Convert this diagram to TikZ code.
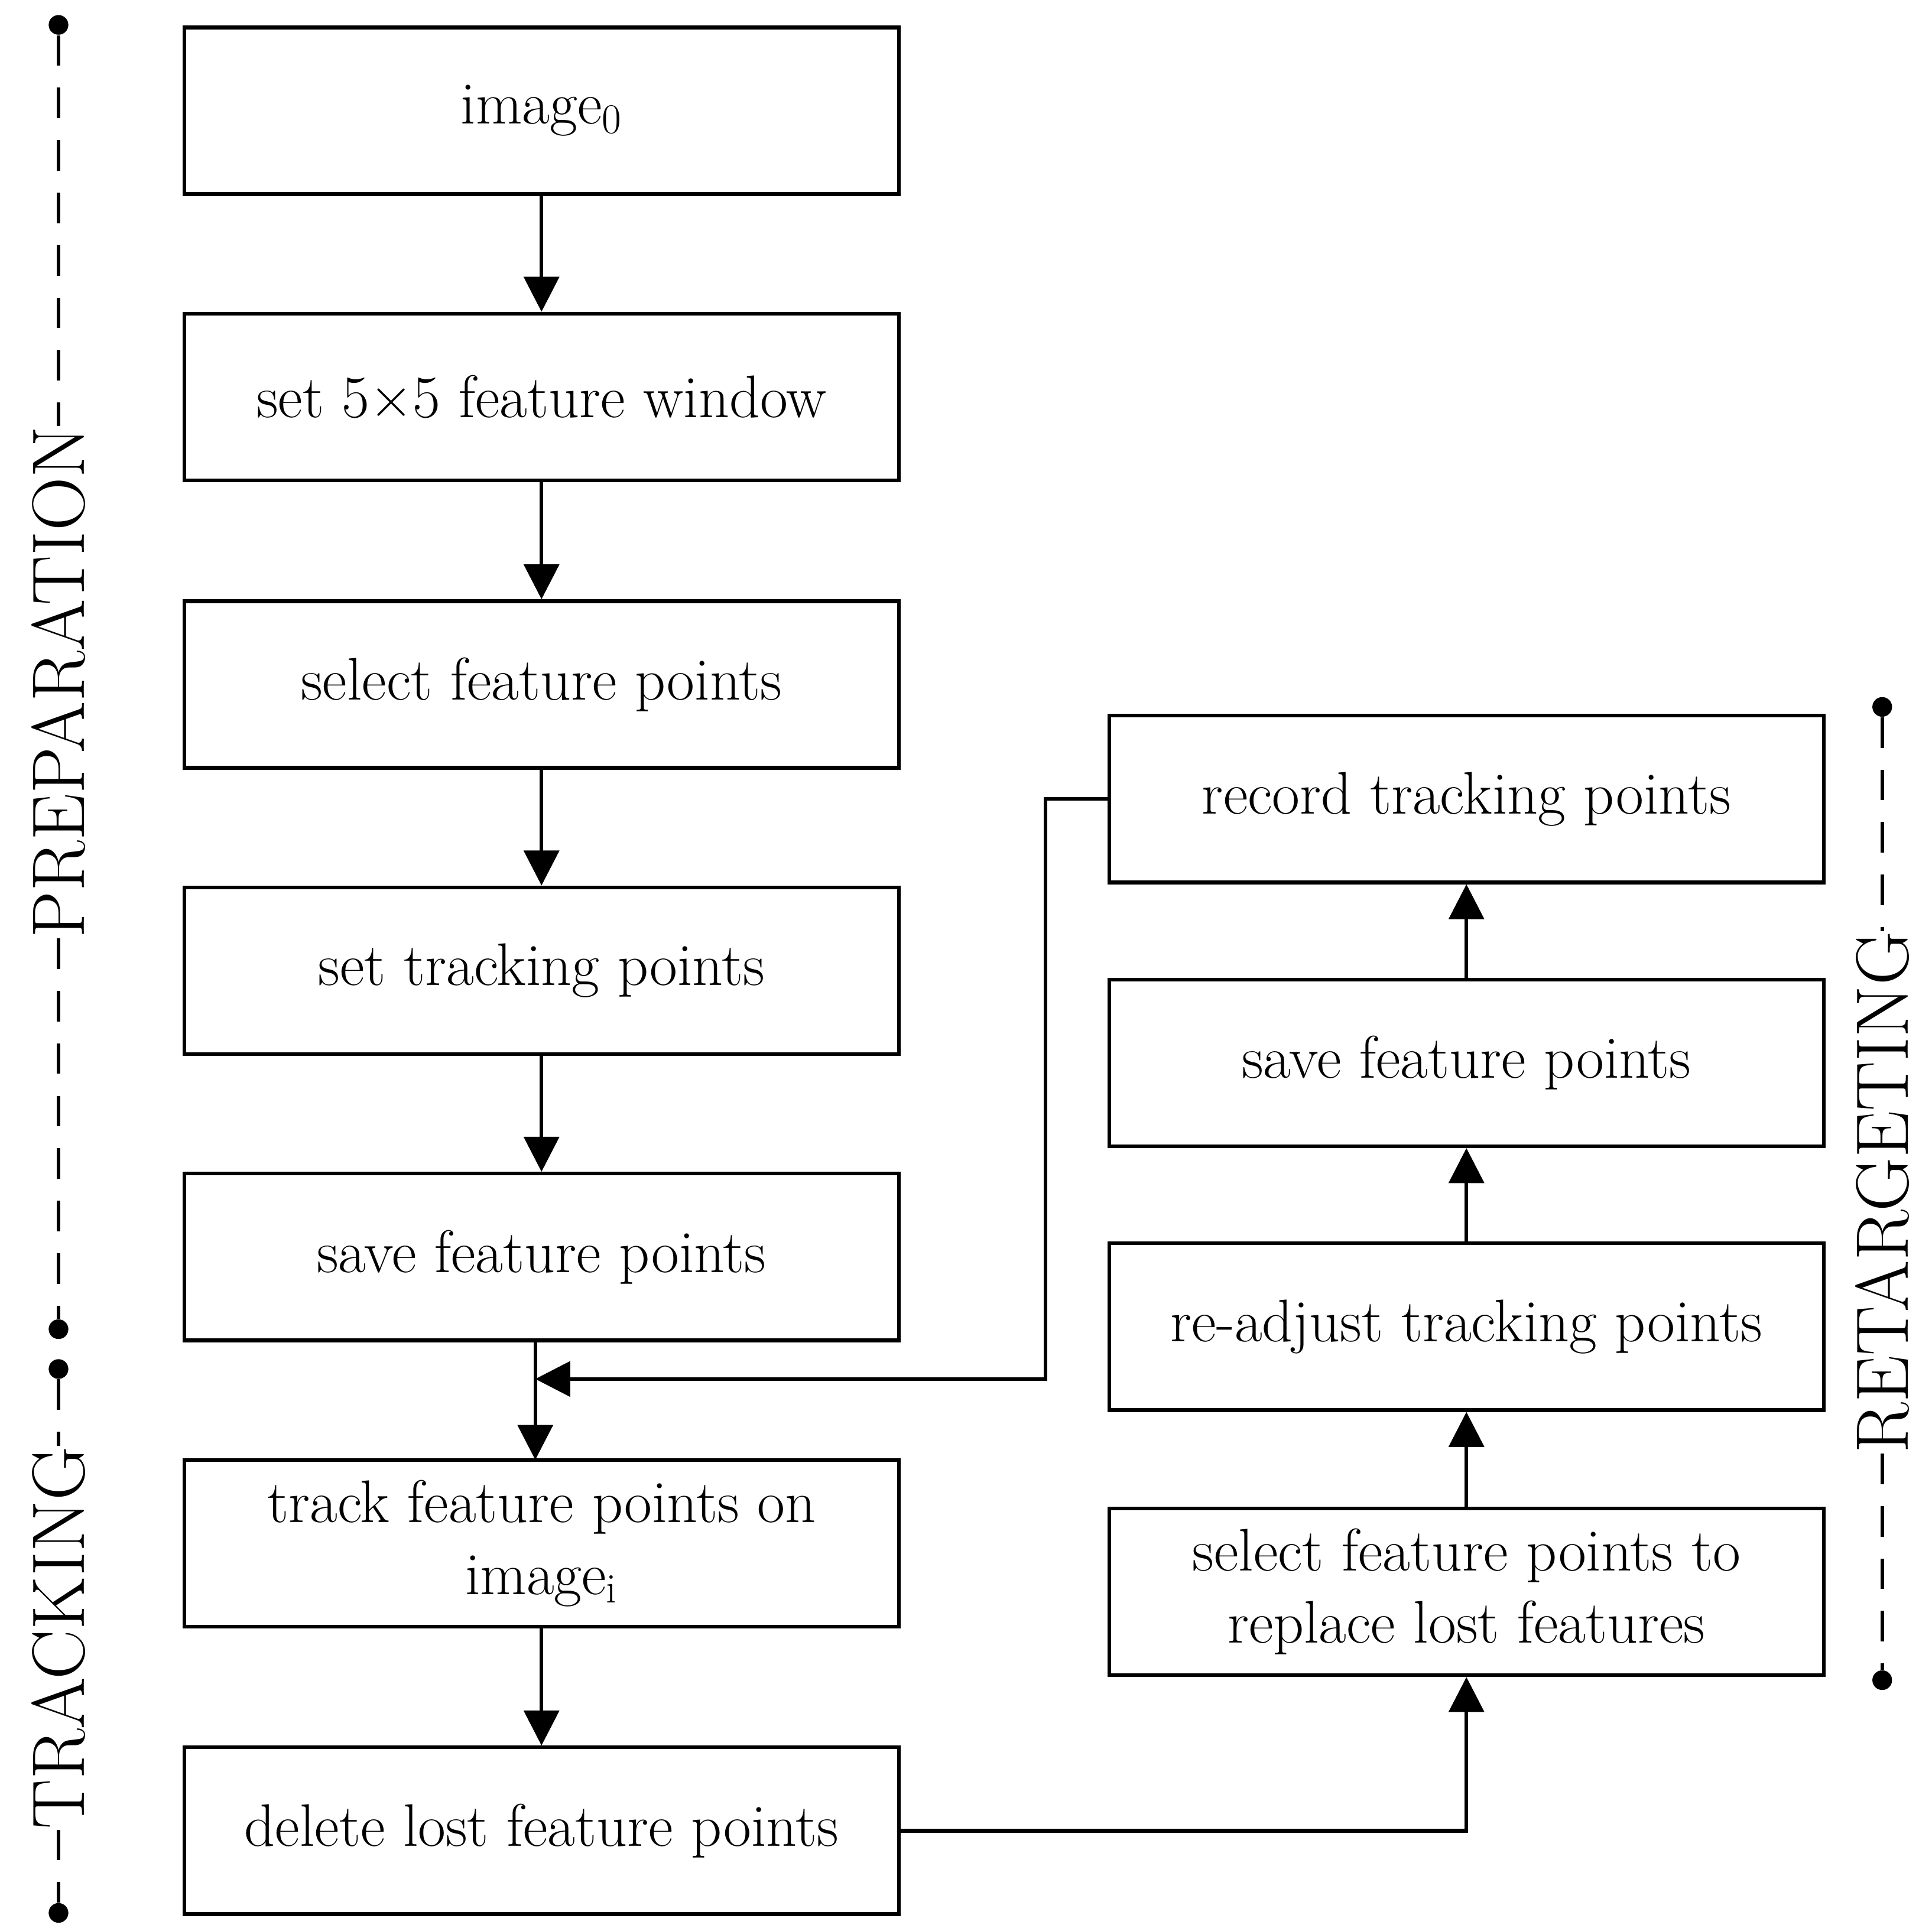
\documentclass[tikz,border=0pt]{standalone}
\usetikzlibrary{arrows.meta}
\begin{document}
\begin{tikzpicture}[x=0.02cm,y=-0.02cm,
 box/.style={draw,line width=1.7pt,minimum width=11.48cm,minimum height=2.68cm,align=center,font=\fontsize{27.5}{33}\selectfont,inner sep=0pt},
 ar/.style={line width=1.7pt,-{Triangle[length=16pt,width=16pt]}},
 dl/.style={line width=1.5pt,dash pattern=on 14pt off 10pt},
 dot/.style={circle,fill,inner sep=0pt,minimum size=9pt},
 lab/.style={rotate=90,font=\fontsize{34}{34}\selectfont,inner sep=0pt}]
\useasboundingbox (0,0) rectangle (1552,1549);
\node[box] (a) at (435,89) {image\textsubscript{0}};
\node[box] (b) at (435,319) {set 5×5 feature window};
\node[box] (c) at (435,550) {select feature points};
\node[box] (d) at (435,780) {set tracking points};
\node[box] (e) at (435,1010) {save feature points};
\node[box] (f) at (435,1240) {track feature points on\\image\textsubscript{i}};
\node[box] (g) at (435,1471) {delete lost feature points};
\node[box] (r1) at (1178,642) {record tracking points};
\node[box] (r2) at (1178,854) {save feature points};
\node[box] (r3) at (1178,1066) {re-adjust tracking points};
\node[box] (r4) at (1178,1279) {select feature points to\\replace lost features};
\draw[ar] (a) -- (b); \draw[ar] (b) -- (c); \draw[ar] (c) -- (d); \draw[ar] (d) -- (e);
\coordinate (j) at (430,1108);
\draw[line width=1.7pt] (430,1077) -- (j);
\draw[ar] (j) -- (430,1173);
\draw[ar] (r1.west) -| (840,1108) -- (j);
\draw[ar] (f) -- (g);
\draw[ar] (g.east) -| (r4.south);
\draw[ar] (r4) -- (r3); \draw[ar] (r3) -- (r2); \draw[ar] (r2) -- (r1);
% left
\node[dot] (t1) at (47,20) {};
\node[lab] (p) at (47,548) {PREPARATION};
\node[dot] (t2) at (47,1068) {};
\node[dot] (t3) at (47,1100) {};
\node[lab] (tr) at (47,1316) {TRACKING};
\node[dot] (t4) at (47,1537) {};
\draw[dl] (t1) -- (p.east); \draw[dl] (p.west) -- (t2);
\draw[dl] (t3) -- (tr.east); \draw[dl] (tr.west) -- (t4);
% right
\node[dot] (s1) at (1512,568) {};
\node[lab] (rt) at (1512,958) {RETARGETING};
\node[dot] (s2) at (1512,1350) {};
\draw[dl] (s1) -- (rt.east); \draw[dl] (rt.west) -- (s2);
\end{tikzpicture}
\end{document}
